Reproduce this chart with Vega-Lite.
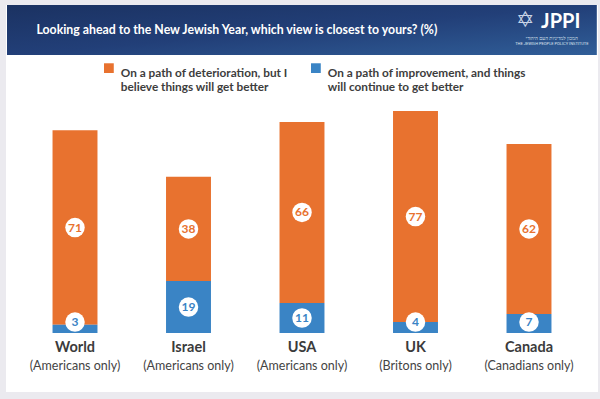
{
  "$schema": "https://vega.github.io/schema/vega-lite/v6.json",
  "width": 600,
  "height": 399,
  "autosize": {"type": "fit", "contains": "padding"},
  "padding": {"left": 6, "top": 5, "right": 2, "bottom": 7},
  "background": "#ebeaef",
  "config": {
    "view": {"fill": "white", "stroke": null},
    "font": "Lato"
  },
  "datasets": {
    "bars": [
      {"country": "World", "sub": "(Americans only)", "series": "deterioration", "value": 71},
      {"country": "World", "sub": "(Americans only)", "series": "improvement", "value": 3},
      {"country": "Israel", "sub": "(Americans only)", "series": "deterioration", "value": 38},
      {"country": "Israel", "sub": "(Americans only)", "series": "improvement", "value": 19},
      {"country": "USA", "sub": "(Americans only)", "series": "deterioration", "value": 66},
      {"country": "USA", "sub": "(Americans only)", "series": "improvement", "value": 11},
      {"country": "UK", "sub": "(Britons only)", "series": "deterioration", "value": 77},
      {"country": "UK", "sub": "(Britons only)", "series": "improvement", "value": 4},
      {"country": "Canada", "sub": "(Canadians only)", "series": "deterioration", "value": 62},
      {"country": "Canada", "sub": "(Canadians only)", "series": "improvement", "value": 7}
    ],
    "header": [
      {
        "title": "Looking ahead to the New Jewish Year, which view is closest to yours?  (%)",
        "logo": "JPPI",
        "star": "✡",
        "hebrew": "המכון למדיניות העם היהודי",
        "english": "THE JEWISH PEOPLE POLICY INSTITUTE"
      }
    ]
  },
  "layer": [
    {
      "data": {"name": "bars"},
      "transform": [
        {"stack": "value", "groupby": ["country"], "sort": [{"field": "series", "order": "descending"}], "as": ["y0", "y1"]},
        {"calculate": "max((datum.y0 + datum.y1) / 2, 4)", "as": "mid"}
      ],
      "encoding": {
        "x": {
          "field": "country",
          "type": "nominal",
          "sort": ["World", "Israel", "USA", "UK", "Canada"],
          "scale": {"paddingInner": 0.604, "paddingOuter": 0.41},
          "axis": null
        }
      },
      "layer": [
        {
          "mark": {"type": "bar"},
          "encoding": {
            "y": {"field": "y0", "type": "quantitative", "scale": {"domain": [-21.5, 119.7], "nice": false, "zero": false}, "axis": null},
            "y2": {"field": "y1"},
            "color": {
              "field": "series",
              "type": "nominal",
              "scale": {"domain": ["deterioration", "improvement"], "range": ["#e8722f", "#3a84c5"]},
              "legend": {
                "orient": "none",
                "legendX": 97,
                "legendY": 57,
                "direction": "horizontal",
                "title": null,
                "symbolType": "square",
                "symbolSize": 95,
                "symbolStrokeWidth": 0,
                "labelFont": "Lato",
                "labelFontSize": 11.8,
                "labelFontWeight": "bold",
                "labelColor": "#3d3d3d",
                "labelLimit": 300,
                "labelBaseline": "top",
                "labelOffset": 6,
                "columnPadding": 22,
                "labelExpr": "datum.value === 'deterioration' ? ['On a path of deterioration, but I', 'believe things will get better'] : ['On a path of improvement, and things', 'will continue to get better']"
              }
            }
          }
        },
        {
          "mark": {"type": "point", "shape": "circle", "filled": true, "color": "white", "size": 380, "opacity": 1},
          "encoding": {"y": {"field": "mid", "type": "quantitative"}}
        },
        {
          "mark": {"type": "text", "fontWeight": "bold", "fontSize": 12, "font": "Lato"},
          "encoding": {
            "y": {"field": "mid", "type": "quantitative"},
            "text": {"field": "value", "type": "quantitative"},
            "color": {"field": "series", "type": "nominal", "legend": null}
          }
        },
        {
          "transform": [{"filter": "datum.series === 'improvement'"}],
          "mark": {"type": "text", "font": "Lato", "fontWeight": "bold", "fontSize": 14.5, "color": "#3b3b3b"},
          "encoding": {
            "y": {"datum": -5.5, "type": "quantitative"},
            "text": {"field": "country"}
          }
        },
        {
          "transform": [{"filter": "datum.series === 'improvement'"}],
          "mark": {"type": "text", "font": "Lato", "fontSize": 12.5, "color": "#444444"},
          "encoding": {
            "y": {"datum": -12, "type": "quantitative"},
            "text": {"field": "sub"}
          }
        }
      ]
    },
    {
      "data": {"name": "header"},
      "layer": [
        {
          "mark": {
            "type": "rect",
            "color": {
              "gradient": "linear",
              "x1": 0, "y1": 0, "x2": 1, "y2": 1,
              "stops": [
                {"offset": 0, "color": "#1b3262"},
                {"offset": 0.5, "color": "#223f78"},
                {"offset": 1, "color": "#305e98"}
              ]
            }
          },
          "encoding": {
            "x": {"datum": 0.17, "type": "quantitative", "scale": {"domain": [0, 100], "nice": false, "zero": false}, "axis": null},
            "x2": {"datum": 99.8},
            "y": {"datum": 119.7, "type": "quantitative"},
            "y2": {"datum": 101.5}
          }
        },
        {
          "mark": {"type": "text", "font": "Lato", "fontWeight": "bold", "fontSize": 12.3, "color": "white"},
          "encoding": {
            "x": {"datum": 39, "type": "quantitative"},
            "y": {"datum": 110.6, "type": "quantitative"},
            "text": {"field": "title"}
          }
        },
        {
          "mark": {"type": "text", "font": "DejaVu Sans", "fontSize": 22, "color": "#c9d4e6"},
          "encoding": {
            "x": {"datum": 87.7, "type": "quantitative"},
            "y": {"datum": 114.2, "type": "quantitative"},
            "text": {"field": "star"}
          }
        },
        {
          "mark": {"type": "text", "font": "Lato", "fontWeight": "bold", "fontSize": 20, "color": "white"},
          "encoding": {
            "x": {"datum": 93.7, "type": "quantitative"},
            "y": {"datum": 113.4, "type": "quantitative"},
            "text": {"field": "logo"}
          }
        },
        {
          "mark": {"type": "text", "font": "Noto Sans", "fontSize": 5, "color": "#dfe6f0"},
          "encoding": {
            "x": {"datum": 92.2, "type": "quantitative"},
            "y": {"datum": 107.7, "type": "quantitative"},
            "text": {"field": "hebrew"}
          }
        },
        {
          "mark": {"type": "text", "font": "Roboto", "fontSize": 4, "color": "#dfe6f0"},
          "encoding": {
            "x": {"datum": 92.2, "type": "quantitative"},
            "y": {"datum": 105.6, "type": "quantitative"},
            "text": {"field": "english"}
          }
        }
      ]
    }
  ],
  "resolve": {"scale": {"x": "independent"}}
}
